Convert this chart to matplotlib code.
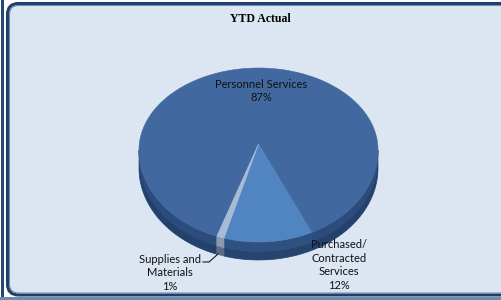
import numpy as np
import matplotlib
matplotlib.use("Agg")
import matplotlib.pyplot as plt
from matplotlib.patches import Polygon, FancyBboxPatch, Rectangle

# ---- data ----
title = "YTD Actual"
categories = ["Personnel Services", "Purchased/\nContracted\nServices", "Supplies and\nMaterials"]
values = [87, 12, 1]
pct_labels = ["87%", "12%", "1%"]
top_colors = ["#41699F", "#5085C2", "#A9BAD6"]
side_colors = ["#2B4C7C", "#2E5180", "#8C98AE"]

W, H = 501, 300
fig = plt.figure(figsize=(W / 100, H / 100), dpi=100)
fig.patch.set_facecolor("white")
ax = fig.add_axes([0, 0, 1, 1])
ax.set_xlim(0, W)
ax.set_ylim(H, 0)
ax.axis("off")

# ---- frame ----
ax.add_patch(Rectangle((0.8, 0), 2.8, H, facecolor="#24487A", edgecolor="none", zorder=1))
ax.add_patch(FancyBboxPatch((7.5, 3.5), 540, 291.5, boxstyle="round,pad=0,rounding_size=11",
                            facecolor="#DCE6F2", edgecolor="#1F3E68", linewidth=2.2, zorder=1))
ax.add_patch(FancyBboxPatch((9.5, 5.5), 536, 287.5, boxstyle="round,pad=0,rounding_size=9",
                            facecolor="none", edgecolor="#6F8DB8", linewidth=0.8, zorder=1))
ax.add_patch(Rectangle((0, 296.5), W, 4, facecolor="#7389A8", edgecolor="none", zorder=2))

# ---- 3D pie geometry (screen pixels) ----
cx, cy = 258.5, 150.0
rx, ry_top, ry_bot = 119.5, 82.0, 92.0
apex = (258.5, 144.0)
depth = 18.0
start = 200.4  # degrees, clockwise from 12 o'clock


def pt(phi_deg, dz=0.0):
    p = np.radians(phi_deg)
    c = np.cos(p)
    ry = ry_top if c > 0 else ry_bot
    return cx + rx * np.sin(p), cy - ry * c + dz


total = float(sum(values))
spans = []
a = start
for v in values:
    s = 360.0 * v / total
    spans.append((a, a + s))
    a += s

# sides (front half only)
for (a0, a1), sc in zip(spans, side_colors):
    for k in range(-1, 2):
        lo = max(a0, 90 + 360 * k)
        hi = min(a1, 270 + 360 * k)
        if hi <= lo:
            continue
        ph = np.linspace(lo, hi, 80)
        topp = [pt(p) for p in ph]
        botp = [pt(p, depth) for p in ph[::-1]]
        ax.add_patch(Polygon(topp + botp, closed=True, facecolor=sc,
                             edgecolor=sc, linewidth=0.5, zorder=3))
        midp = [pt(p, depth * 0.55) for p in ph]
        ax.add_patch(Polygon(midp + botp, closed=True, facecolor="#1D3557",
                             edgecolor="none", alpha=0.45, zorder=3.1))

# tops
for (a0, a1), tc in zip(spans, top_colors):
    ph = np.linspace(a0, a1, max(int((a1 - a0) * 2), 4))
    pts = [apex] + [pt(p) for p in ph]
    ax.add_patch(Polygon(pts, closed=True, facecolor=tc, edgecolor=tc,
                         linewidth=0.4, zorder=4))

# ---- text ----
ax.text(260, 19, title, ha="center", va="center", fontsize=8.5, fontweight="bold",
        family="Liberation Serif", color="black", zorder=6)

fnt = dict(family="Lato", fontsize=8, color="#111111", zorder=6, linespacing=1.3)
ax.text(261, 91, categories[0] + "\n" + pct_labels[0], ha="center", va="center", **fnt)
ax.text(339, 265, categories[1] + "\n" + pct_labels[1], ha="center", va="center", **fnt)
ax.text(170, 273, categories[2] + "\n" + pct_labels[2], ha="center", va="center", **fnt)

# leader line for small slice
ax.plot([203, 209, 218], [262, 262, 254], color="#1a1a1a", lw=0.8, zorder=6)

fig.savefig("out.png", dpi=100, facecolor=fig.get_facecolor())
